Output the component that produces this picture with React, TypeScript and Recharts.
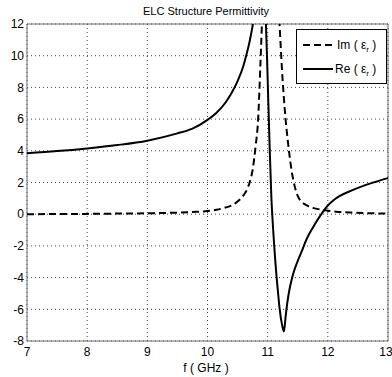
import React from "react"
import { CartesianGrid, Line, LineChart, ReferenceArea, XAxis, YAxis } from "recharts"

// frequency samples (GHz), denser around the resonance
const freq = [
    7, 7.5, 8, 8.5, 9, 9.5, 9.75, 10, 10.15, 10.3, 10.4, 10.5, 10.6, 10.65, 10.7, 10.75, 10.8,
    10.84, 10.88, 10.92, 10.96, 11.0, 11.03, 11.06, 11.09, 11.13, 11.17, 11.2, 11.24,
    11.27, 11.3, 11.33, 11.36, 11.4, 11.45, 11.5, 11.56, 11.65, 11.75, 11.9, 12.0, 12.1,
    12.2, 12.4, 12.6, 12.8, 13,
]

const reEps = [
    3.85, 3.98, 4.15, 4.36, 4.64, 5.1, 5.4, 5.95, 6.4, 7.05, 7.65, 8.4, 9.4, 10.1, 10.9, 11.9, 13.1,
    14.2, 15.0, 15.3, 13.3, 8.5, 4.6, 1.2, -0.9, -3.1, -4.85, -6.0, -7.0,
    -7.4, -6.4, -5.5, -4.8, -4.1, -3.45, -2.95, -2.4, -1.55, -0.85, 0.05, 0.55, 0.9,
    1.15, 1.5, 1.8, 2.05, 2.28,
]

const imEps = [
    0.0, 0.01, 0.02, 0.04, 0.06, 0.1, 0.14, 0.2, 0.28, 0.42, 0.55, 0.8, 1.2, 1.5, 2.0, 2.8, 4.3,
    5.9, 9.5, 13.5, 16.5, 19, 20, 20.5, 19.5, 17, 14, 11.8, 9.0,
    7.3, 5.9, 4.8, 3.8, 2.7, 1.75, 1.15, 0.8, 0.55, 0.4, 0.28, 0.22, 0.17,
    0.14, 0.1, 0.07, 0.05, 0.04,
]

const xTicks = [7, 8, 9, 10, 11, 12, 13]
const yTicks = [-8, -6, -4, -2, 0, 2, 4, 6, 8, 10, 12]

const data = freq.map((f, i) => ({ f, re: reEps[i], im: imEps[i] }))

const font = "'Liberation Sans', Arial, sans-serif"

export default function App() {
    return (
        <div style={{ position: "absolute", left: 0, top: 0, width: 392, height: 377, background: "#fff" }}>
            <LineChart
                width={392}
                height={377}
                data={data}
                margin={{ top: 24, right: 4, bottom: 0, left: 0 }}
            >
                <CartesianGrid stroke="#444" strokeDasharray="1 3" />
                <XAxis
                    dataKey="f"
                    type="number"
                    domain={[7, 13]}
                    ticks={xTicks}
                    height={36}
                    tickLine={false}
                    axisLine={false}
                    tickSize={6}
                    tickMargin={0}
                    tick={{ fill: "#000", fontSize: 12, fontFamily: font }}
                />
                <YAxis
                    type="number"
                    domain={[-8, 12]}
                    ticks={yTicks}
                    allowDataOverflow
                    width={27}
                    tickLine={false}
                    axisLine={false}
                    tickSize={3}
                    tickMargin={0}
                    tick={{ fill: "#000", fontSize: 12, fontFamily: font }}
                />
                <ReferenceArea x1={7} x2={13} y1={-8} y2={12} fill="none" stroke="#6e6e6e" strokeWidth={1} />
                <Line
                    dataKey="im"
                    type="monotone"
                    stroke="#000"
                    strokeWidth={2}
                    strokeDasharray="7 4"
                    dot={false}
                    isAnimationActive={false}
                />
                <Line
                    dataKey="re"
                    type="monotone"
                    stroke="#000"
                    strokeWidth={2}
                    dot={false}
                    isAnimationActive={false}
                />
            </LineChart>
            <svg
                width={392}
                height={377}
                style={{ position: "absolute", left: 0, top: 0, pointerEvents: "none" }}
                fontFamily={font}
            >
                <text x={206} y={15} textAnchor="middle" fontSize={11} fill="#000">
                    ELC Structure Permittivity
                </text>
                <text x={206} y={372} textAnchor="middle" fontSize={12} fill="#000">
                    f ( GHz )
                </text>
                <rect x={296.5} y={29.5} width={90} height={54} fill="#fff" stroke="#000" strokeWidth={1} />
                <line x1={303} y1={45} x2={333} y2={45} stroke="#000" strokeWidth={2} strokeDasharray="7 4" />
                <text x={337} y={49} fontSize={12} fill="#000">
                    Im ( ε<tspan dy={3} fontSize={8}>r</tspan><tspan dy={-3}> )</tspan>
                </text>
                <line x1={303} y1={69} x2={333} y2={69} stroke="#000" strokeWidth={2} />
                <text x={335} y={73} fontSize={12} fill="#000">
                    Re ( ε<tspan dy={3} fontSize={8}>r</tspan><tspan dy={-3}> )</tspan>
                </text>
            </svg>
        </div>
    )
}
